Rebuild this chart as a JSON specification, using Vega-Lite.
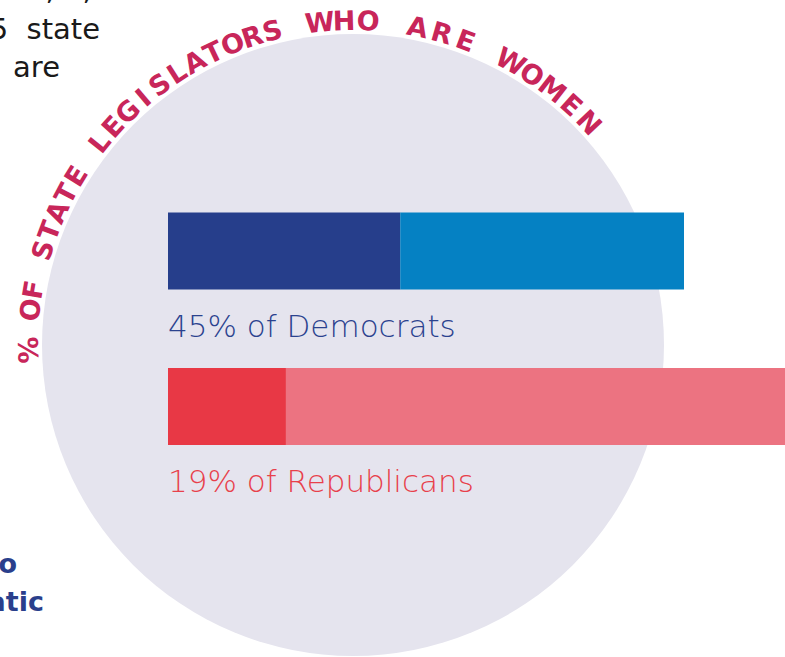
{
  "$schema": "https://vega.github.io/schema/vega-lite/v6.json",
  "autosize": {"type": "none"},
  "width": 706,
  "height": 624,
  "padding": {"left": 0, "top": 33, "right": 79, "bottom": 0},
  "background": "#ffffff",
  "config": {"view": {"stroke": null}, "axis": {"disable": true}},
  "datasets": {
    "seats": [
      {"party": "Democrats", "gender": "Women", "key": "Democratic women", "row": 1, "seats": 1465},
      {"party": "Democrats", "gender": "Men", "key": "Democratic men", "row": 1, "seats": 1790},
      {"party": "Republicans", "gender": "Women", "key": "Republican women", "row": 2, "seats": 744},
      {"party": "Republicans", "gender": "Men", "key": "Republican men", "row": 2, "seats": 3173}
    ],
    "labels": [
      {"party": "Democrats", "row": 1, "label": "45% of Democrats"},
      {"party": "Republicans", "row": 2, "label": "19% of Republicans"}
    ],
    "arc": [
      {"i": 0, "ch": "%"},
      {"i": 2, "ch": "O"}, {"i": 3, "ch": "F"},
      {"i": 5, "ch": "S"}, {"i": 6, "ch": "T"}, {"i": 7, "ch": "A"}, {"i": 8, "ch": "T"}, {"i": 9, "ch": "E"},
      {"i": 11, "ch": "L"}, {"i": 12, "ch": "E"}, {"i": 13, "ch": "G"}, {"i": 14, "ch": "I"}, {"i": 15, "ch": "S"}, {"i": 16, "ch": "L"}, {"i": 17, "ch": "A"}, {"i": 18, "ch": "T"}, {"i": 19, "ch": "O"}, {"i": 20, "ch": "R"}, {"i": 21, "ch": "S"},
      {"i": 23, "ch": "W"}, {"i": 24, "ch": "H"}, {"i": 25, "ch": "O"},
      {"i": 27, "ch": "A"}, {"i": 28, "ch": "R"}, {"i": 29, "ch": "E"},
      {"i": 31, "ch": "W"}, {"i": 32, "ch": "O"}, {"i": 33, "ch": "M"}, {"i": 34, "ch": "E"}, {"i": 35, "ch": "N"}
    ]
  },
  "layer": [
    {
      "data": {"values": [{"shape": "circle"}]},
      "mark": {"type": "point", "shape": "circle", "filled": true, "opacity": 1, "size": 386884, "color": "#e5e4ee", "strokeWidth": 0},
      "encoding": {}
    },
    {
      "data": {"name": "arc"},
      "mark": {"type": "text", "radius": 323, "align": "center", "baseline": "middle", "font": "DejaVu Sans", "fontWeight": "bold", "fontSize": 27, "color": "#c8265a"},
      "encoding": {
        "theta": {"field": "i", "type": "quantitative", "stack": null, "scale": {"domain": [0, 3, 11, 21, 25, 35], "range": [-1.5865, -1.3998, -0.8971, -0.2513, 0.0471, 0.8151]}},
        "angle": {"field": "i", "type": "quantitative", "scale": {"domain": [0, 3, 11, 21, 25, 35], "range": [-90.9, -80.2, -51.4, -14.4, 2.7, 46.7]}, "legend": null},
        "text": {"field": "ch"}
      }
    },
    {
      "data": {"name": "seats"},
      "mark": {"type": "bar", "orient": "horizontal", "height": 77},
      "encoding": {
        "x": {"field": "seats", "type": "quantitative", "stack": "zero", "scale": {"domain": [-1059.8, 3393.8], "nice": false, "zero": false}, "axis": null},
        "y": {"field": "row", "type": "quantitative", "scale": {"domain": [-0.37025, 3.5791], "reverse": true, "nice": false, "zero": false}, "axis": null},
        "color": {"field": "key", "type": "nominal", "scale": {"domain": ["Democratic women", "Democratic men", "Republican women", "Republican men"], "range": ["#263e8b", "#0581c3", "#e83845", "#ec7381"]}, "legend": null},
        "order": {"field": "gender", "sort": "descending"}
      }
    },
    {
      "data": {"name": "labels"},
      "mark": {"type": "text", "align": "left", "baseline": "alphabetic", "dy": 86, "font": "DejaVu Sans", "fontWeight": 300, "fontSize": 31},
      "encoding": {
        "x": {"datum": 0, "type": "quantitative"},
        "y": {"field": "row", "type": "quantitative"},
        "text": {"field": "label"},
        "color": {"condition": {"test": "datum.party === 'Democrats'", "value": "#2b428e"}, "value": "#e8404b"}
      }
    },
    {
      "data": {"values": [{"note": "intro"}]},
      "mark": {"type": "text", "align": "right", "baseline": "alphabetic", "font": "DejaVu Sans", "fontSize": 29, "color": "#1a1a1a"},
      "encoding": {"x": {"datum": -132.5, "type": "quantitative"}, "y": {"datum": -0.617, "type": "quantitative"}, "text": {"value": "ats, 1,465"}}
    },
    {
      "data": {"values": [{"note": "intro"}]},
      "mark": {"type": "text", "align": "right", "baseline": "alphabetic", "font": "DejaVu Sans", "fontSize": 29, "color": "#1a1a1a"},
      "encoding": {"x": {"datum": -429, "type": "quantitative"}, "y": {"datum": -0.365, "type": "quantitative"}, "text": {"value": "5\u00a0\u00a0state"}}
    },
    {
      "data": {"values": [{"note": "intro"}]},
      "mark": {"type": "text", "align": "right", "baseline": "alphabetic", "font": "DejaVu Sans", "fontSize": 29, "color": "#1a1a1a"},
      "encoding": {"x": {"datum": -681.3, "type": "quantitative"}, "y": {"datum": -0.118, "type": "quantitative"}, "text": {"value": "are"}}
    },
    {
      "data": {"values": [{"note": "outro"}]},
      "mark": {"type": "text", "align": "right", "baseline": "alphabetic", "font": "DejaVu Sans", "fontWeight": "bold", "fontSize": 27, "color": "#2a3f8c"},
      "encoding": {"x": {"datum": -952.5, "type": "quantitative"}, "y": {"datum": 3.073, "type": "quantitative"}, "text": {"value": "o"}}
    },
    {
      "data": {"values": [{"note": "outro"}]},
      "mark": {"type": "text", "align": "right", "baseline": "alphabetic", "font": "DejaVu Sans", "fontWeight": "bold", "fontSize": 27, "color": "#2a3f8c"},
      "encoding": {"x": {"datum": -782.2, "type": "quantitative"}, "y": {"datum": 3.313, "type": "quantitative"}, "text": {"value": "atic"}}
    }
  ]
}
